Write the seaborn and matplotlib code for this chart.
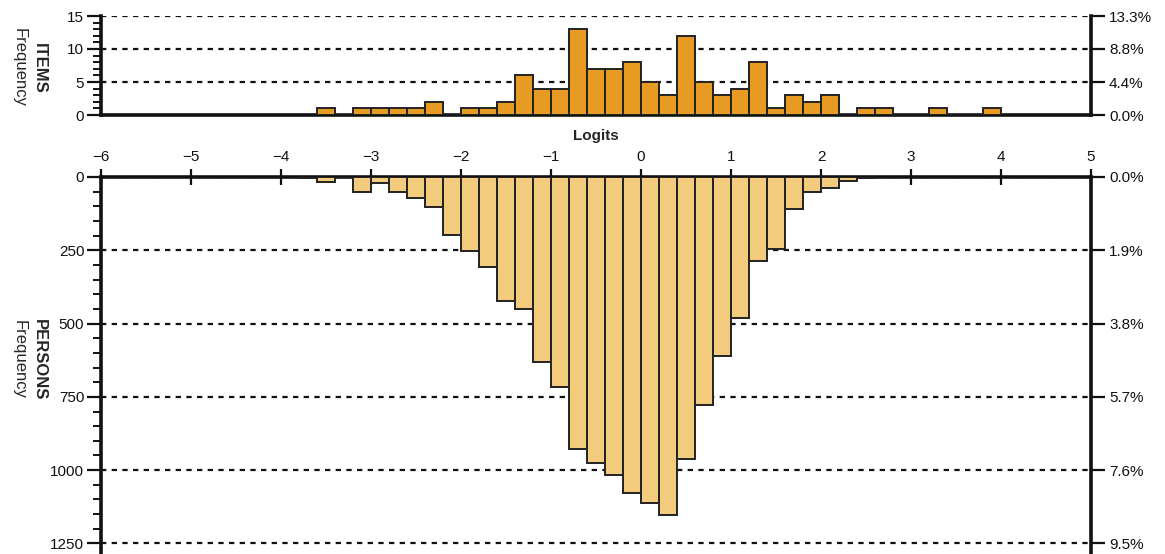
import numpy as np
import pandas as pd
import matplotlib
matplotlib.use("Agg")
import matplotlib.pyplot as plt
from matplotlib.ticker import MultipleLocator, FixedLocator
import seaborn as sns

# Item difficulty distribution: lower bin edges (logits, 0.2 wide) and counts
item_bin_start = [-3.6, -3.4, -3.2, -3.0, -2.8, -2.6, -2.4, -2.2, -2.0, -1.8,
                  -1.6, -1.4, -1.2, -1.0, -0.8, -0.6, -0.4, -0.2, 0.0, 0.2,
                  0.4, 0.6, 0.8, 1.0, 1.2, 1.4, 1.6, 1.8, 2.0, 2.2,
                  2.4, 2.6, 2.8, 3.0, 3.2, 3.4, 3.6, 3.8]
item_counts = [1, 0, 1, 1, 1, 1, 2, 0, 1, 1,
               2, 6, 4, 4, 13, 7, 7, 8, 5, 3,
               12, 5, 3, 4, 8, 1, 3, 2, 3, 0,
               1, 1, 0, 0, 1, 0, 0, 1]

# Person ability distribution: lower bin edges (logits, 0.2 wide) and counts
person_bin_start = [-3.8, -3.6, -3.4, -3.2, -3.0, -2.8, -2.6, -2.4, -2.2, -2.0,
                    -1.8, -1.6, -1.4, -1.2, -1.0, -0.8, -0.6, -0.4, -0.2, 0.0,
                    0.2, 0.4, 0.6, 0.8, 1.0, 1.2, 1.4, 1.6, 1.8, 2.0,
                    2.2, 2.4]
person_counts = [4, 16, 0, 51, 21, 51, 73, 101, 197, 252,
                 308, 422, 449, 632, 717, 929, 974, 1016, 1079, 1112,
                 1152, 963, 778, 611, 482, 286, 246, 110, 50, 38,
                 15, 5]

bin_width = 0.2
logit_ticks = [-6, -5, -4, -3, -2, -1, 0, 1, 2, 3, 4, 5]
item_yticks = [0, 5, 10, 15]
person_yticks = [0, 250, 500, 750, 1000, 1250]

sns.set_style("ticks")
plt.rcParams["font.family"] = ["Liberation Sans", "DejaVu Sans"]
plt.rcParams["axes.unicode_minus"] = True

ITEM_COLOR = "#E89B22"
PERSON_COLOR = "#F3CB7C"
EDGE = "#222222"
SPINE_W = 2.6
FS = 11
LABEL_FS = 12

W, H = 1165, 554
fig = plt.figure(figsize=(W / 100, H / 100), dpi=100)
ax_top = fig.add_axes([101 / W, 1 - 115 / H, 990 / W, 99 / H])
ax_bot = fig.add_axes([101 / W, 0.0, 990 / W, 1 - 177 / H])


def draw_hist(ax, starts, counts, color):
    starts = np.asarray(starts, dtype=float)
    edges = [round(float(e), 2) for e in np.append(starts, starts[-1] + bin_width)]
    df = pd.DataFrame({"logit": starts + bin_width / 2,
                       "n": np.asarray(counts, dtype=float)})
    sns.histplot(data=df, x="logit", weights="n", bins=edges, ax=ax,
                 color=color, alpha=1.0, edgecolor=EDGE, linewidth=1.4,
                 zorder=3)


draw_hist(ax_top, item_bin_start, item_counts, ITEM_COLOR)
draw_hist(ax_bot, person_bin_start, person_counts, PERSON_COLOR)

grid_kw = dict(color="#111111", linestyle=(0, (2.4, 2.4)), linewidth=1.6)

for ax in (ax_top, ax_bot):
    ax.set_xlim(-6, 5)
    ax.set_xlabel("")
    ax.set_ylabel("")
    ax.set_axisbelow(True)
    ax.yaxis.grid(True, **grid_kw)
    ax.xaxis.grid(False)
    for s in ax.spines.values():
        s.set_linewidth(SPINE_W)
        s.set_color("#111111")
    ax.tick_params(axis="y", which="major", direction="out", length=10,
                   width=1.6, pad=2, labelsize=FS, left=True, right=False,
                   colors="#111111")
    ax.tick_params(axis="y", which="minor", direction="out", length=5.5,
                   width=1.4, left=True, right=False, colors="#111111")

# ---- Items panel ----
ax_top.set_ylim(0, 15)
ax_top.yaxis.set_major_locator(FixedLocator(item_yticks))
ax_top.yaxis.set_minor_locator(MultipleLocator(1))
ax_top.spines["top"].set_visible(False)
ax_top.tick_params(axis="x", bottom=False, top=False,
                   labelbottom=False, labeltop=False)

# ---- Persons panel (hanging downward) ----
ax_bot.set_ylim(1286, 0)
ax_bot.yaxis.set_major_locator(FixedLocator(person_yticks))
ax_bot.yaxis.set_minor_locator(MultipleLocator(50))
ax_bot.spines["bottom"].set_visible(False)
ax_bot.xaxis.tick_top()
ax_bot.xaxis.set_label_position("top")
ax_bot.set_xticks(logit_ticks)
ax_bot.tick_params(axis="x", which="major", direction="inout", length=11,
                   width=1.6, pad=4, labelsize=FS, top=True, bottom=False,
                   colors="#111111")
ax_bot.set_xlabel("Logits", fontsize=FS, fontweight="bold", labelpad=7)

# ---- Percentage axes on the right ----
def add_percent_axis(ax, ticks, total):
    tw = ax.twinx()
    tw.set_ylim(ax.get_ylim())
    tw.yaxis.set_major_locator(FixedLocator(ticks))
    tw.set_yticklabels([f"{t / total * 100:.1f}%" for t in ticks])
    for s in tw.spines.values():
        s.set_visible(False)
    tw.tick_params(axis="y", which="major", direction="out", length=10,
                   width=1.6, pad=3, labelsize=FS, right=True, left=False,
                   colors="#111111")
    tw.yaxis.set_minor_locator(FixedLocator([]))
    return tw


add_percent_axis(ax_top, item_yticks, sum(item_counts))
add_percent_axis(ax_bot, person_yticks, sum(person_counts))

# ---- Side titles ----
fig.text(39 / W, 1 - 68 / H, "ITEMS", rotation=-90, ha="center", va="center",
         fontsize=LABEL_FS, fontweight="bold")
fig.text(19 / W, 1 - 68 / H, "Frequency", rotation=-90, ha="center",
         va="center", fontsize=LABEL_FS)
fig.text(39 / W, 1 - 360 / H, "PERSONS", rotation=-90, ha="center",
         va="center", fontsize=LABEL_FS, fontweight="bold")
fig.text(19 / W, 1 - 360 / H, "Frequency", rotation=-90, ha="center",
         va="center", fontsize=LABEL_FS)

fig.savefig("out.png", dpi=100)
